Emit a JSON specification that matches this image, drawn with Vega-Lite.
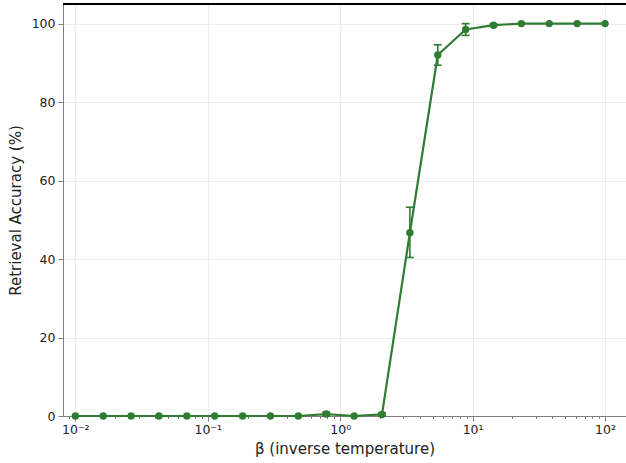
{
  "$schema": "https://vega.github.io/schema/vega-lite/v6.json",
  "width": 563,
  "height": 412,
  "autosize": {"type": "none"},
  "padding": {"left": 63, "top": 4, "right": 0, "bottom": 47},
  "background": "white",
  "config": {
    "view": {"stroke": null},
    "font": "DejaVu Sans",
    "axis": {
      "domainColor": "#808080",
      "tickColor": "#808080",
      "labelColor": "#222222",
      "titleColor": "#222222",
      "labelFont": "DejaVu Sans",
      "titleFont": "DejaVu Sans",
      "labelFontSize": 12.5,
      "titleFontSize": 15,
      "titleFontWeight": "normal",
      "gridColor": "#e8e8e8",
      "gridWidth": 0.8
    }
  },
  "data": {
    "values": [
      {"beta": 0.01, "acc": 0, "lo": 0, "hi": 0},
      {"beta": 0.01624, "acc": 0, "lo": 0, "hi": 0},
      {"beta": 0.02637, "acc": 0, "lo": 0, "hi": 0},
      {"beta": 0.04281, "acc": 0, "lo": 0, "hi": 0},
      {"beta": 0.06952, "acc": 0, "lo": 0, "hi": 0},
      {"beta": 0.1129, "acc": 0, "lo": 0, "hi": 0},
      {"beta": 0.1833, "acc": 0, "lo": 0, "hi": 0},
      {"beta": 0.2976, "acc": 0, "lo": 0, "hi": 0},
      {"beta": 0.4833, "acc": 0, "lo": 0, "hi": 0},
      {"beta": 0.7848, "acc": 0.5, "lo": 0, "hi": 1.0},
      {"beta": 1.2743, "acc": 0, "lo": 0, "hi": 0},
      {"beta": 2.0691, "acc": 0.4, "lo": 0, "hi": 0.8},
      {"beta": 3.3598, "acc": 46.7, "lo": 40.4, "hi": 53.2},
      {"beta": 5.4556, "acc": 92.0, "lo": 89.4, "hi": 94.6},
      {"beta": 8.8587, "acc": 98.5, "lo": 97.0, "hi": 100.0},
      {"beta": 14.384, "acc": 99.6, "lo": 99.3, "hi": 99.9},
      {"beta": 23.357, "acc": 100, "lo": 100, "hi": 100},
      {"beta": 37.927, "acc": 100, "lo": 100, "hi": 100},
      {"beta": 61.585, "acc": 100, "lo": 100, "hi": 100},
      {"beta": 100, "acc": 100, "lo": 100, "hi": 100}
    ]
  },
  "resolve": {"axis": {"x": "independent", "y": "independent"}},
  "layer": [
    {
      "mark": {"type": "line", "color": "#2e7d32", "strokeWidth": 2.2},
      "encoding": {
        "x": {
          "field": "beta", "type": "quantitative",
          "scale": {"type": "log", "domain": [0.00807, 144], "nice": false},
          "axis": {
            "orient": "bottom",
            "title": "β (inverse temperature)",
            "values": [0.01, 0.1, 1, 10, 100],
            "labelExpr": "datum.value < 0.05 ? '10⁻²' : datum.value < 0.5 ? '10⁻¹' : datum.value < 5 ? '10⁰' : datum.value < 50 ? '10¹' : '10²'",
            "grid": true,
            "tickSize": 5,
            "labelPadding": 2,
            "titlePadding": 6
          }
        },
        "y": {
          "field": "acc", "type": "quantitative",
          "scale": {"domain": [0, 105], "nice": false},
          "axis": {
            "orient": "left",
            "title": "Retrieval Accuracy (%)",
            "values": [0, 20, 40, 60, 80, 100],
            "grid": true,
            "tickSize": 5,
            "labelPadding": 3,
            "titlePadding": 8
          }
        }
      }
    },
    {
      "transform": [{"filter": "datum.hi > datum.lo"}],
      "mark": {"type": "rule", "color": "#2e7d32", "strokeWidth": 1.6},
      "encoding": {
        "x": {"field": "beta", "type": "quantitative", "axis": null},
        "y": {"field": "lo", "type": "quantitative", "axis": null},
        "y2": {"field": "hi"}
      }
    },
    {
      "transform": [{"filter": "datum.hi > datum.lo"}],
      "mark": {"type": "tick", "orient": "horizontal", "color": "#2e7d32", "size": 8, "thickness": 1.6, "opacity": 1},
      "encoding": {
        "x": {"field": "beta", "type": "quantitative", "axis": null},
        "y": {"field": "lo", "type": "quantitative", "axis": null}
      }
    },
    {
      "transform": [{"filter": "datum.hi > datum.lo"}],
      "mark": {"type": "tick", "orient": "horizontal", "color": "#2e7d32", "size": 8, "thickness": 1.6, "opacity": 1},
      "encoding": {
        "x": {"field": "beta", "type": "quantitative", "axis": null},
        "y": {"field": "hi", "type": "quantitative", "axis": null}
      }
    },
    {
      "mark": {"type": "point", "filled": true, "color": "#2e7d32", "opacity": 1, "size": 55},
      "encoding": {
        "x": {"field": "beta", "type": "quantitative", "axis": null},
        "y": {"field": "acc", "type": "quantitative", "axis": null}
      }
    },
    {
      "mark": {"type": "line", "opacity": 0},
      "encoding": {
        "x": {
          "field": "beta", "type": "quantitative",
          "axis": {
            "orient": "bottom",
            "title": null,
            "labels": false,
            "domain": false,
            "grid": false,
            "tickSize": 2.5,
            "values": [0.009, 0.02, 0.03, 0.04, 0.05, 0.06, 0.07, 0.08, 0.09, 0.2, 0.3, 0.4, 0.5, 0.6, 0.7, 0.8, 0.9, 2, 3, 4, 5, 6, 7, 8, 9, 20, 30, 40, 50, 60, 70, 80, 90]
          }
        },
        "y": {"field": "acc", "type": "quantitative", "axis": null}
      }
    },
    {
      "mark": {"type": "rule", "color": "#000000", "strokeWidth": 1},
      "encoding": {"y": {"datum": 105, "axis": null}}
    }
  ]
}
